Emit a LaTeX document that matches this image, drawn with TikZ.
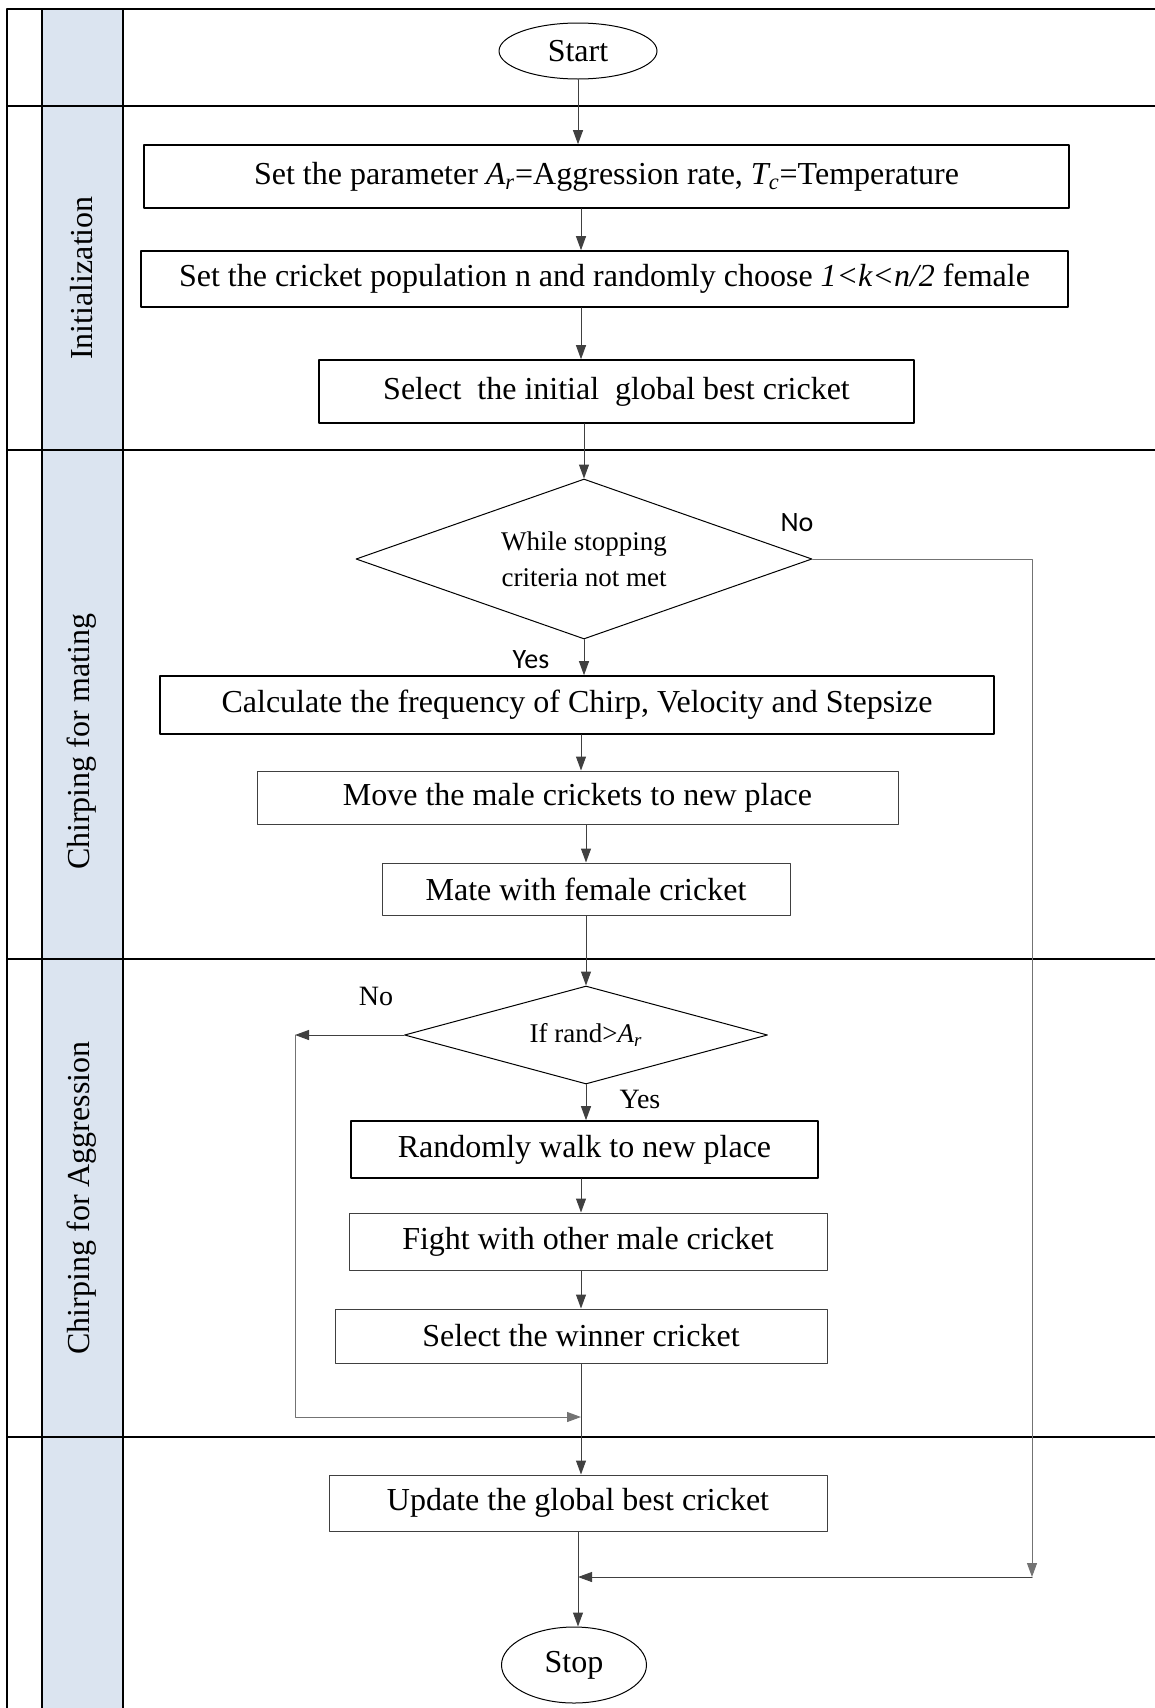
\documentclass[tikz,border=0pt]{standalone}
\usepackage{fontspec}
\setmainfont{Liberation Serif}
\newfontfamily\calibri{Carlito}
\usetikzlibrary{shapes.geometric,arrows.meta}
\definecolor{lanefill}{RGB}{219,228,240}
\tikzset{
  lanelabel/.style={rotate=90, inner sep=0pt, font=\fontsize{16}{19}\selectfont},
  procbox/.style={draw, line width=0.8pt, inner sep=0pt, font=\fontsize{16}{19}\selectfont},
  procthin/.style={procbox, draw=black!75, line width=0.5pt},
  boxsize/.style 2 args={minimum width=#1*0.5pt, minimum height=#2*0.5pt},
  decision/.style={diamond, draw, line width=0.5pt, inner sep=0pt, align=center, font=\fontsize{13.5}{18}\selectfont},
  terminal/.style={ellipse, draw, line width=0.5pt, inner sep=0pt, font=\fontsize{16}{19}\selectfont},
  flow/.style={draw=black!75, line width=0.5pt, -{Triangle[length=7pt,width=5pt]}},
  answer/.style={inner sep=0pt, font=\fontsize{14}{16}\selectfont},
  sansanswer/.style={inner sep=0pt, font=\calibri\fontsize{14}{16}\selectfont}
}
\begin{document}
\begin{tikzpicture}[x=0.5pt, y=-0.5pt, line cap=round, line join=round]
  \useasboundingbox (0,0) rectangle (1155,1708);
  \begin{scope}[line width=1pt, color=black]
    \fill[lanefill] (42,9) rectangle (123,1708);
    \draw (7,1708) -- (7,9) -- (1155,9);
    \draw (42,9) -- (42,1708);
    \draw (123,9) -- (123,1708);
    \draw (7,106) -- (1155,106);
    \draw (7,450) -- (1155,450);
    \draw (7,959) -- (1155,959);
    \draw (7,1437) -- (1155,1437);
  \end{scope}
  \node[lanelabel] (lblinit) at (82,278) {Initialization};
  \node[lanelabel] (lblmating) at (82,742) {Chirping for mating};
  \node[lanelabel] (lblaggr) at (82,1198) {Chirping for Aggression};

  \coordinate (axis) at (581,0);
  \node[terminal, boxsize={158}{56}] (start) at (578,51) {Start};
  \node[procbox, boxsize={925}{63}] (setpar) at (606.5,176.5)
    {Set the parameter \textit{A\textsubscript{r}}=Aggression rate, \textit{T\textsubscript{c}}=Temperature};
  \node[procbox, boxsize={927}{56}] (setpop) at (604.5,279)
    {Set the cricket population n and randomly choose \textit{1<k<n/2} female};
  \node[procbox, boxsize={595}{63}] (selinit) at (616.5,391.5)
    {Select\ \ the initial\ \ global best cricket};
  \node[decision, aspect=2.85, boxsize={456}{160}] (whilestop) at (584,559)
    {While stopping\\criteria not met};
  \node[procbox, boxsize={834}{58}] (calc) at (577,705)
    {Calculate the frequency of Chirp, Velocity and Stepsize};
  \node[procthin, boxsize={641}{53}] (move) at (577.5,797.5)
    {Move the male crickets to new place};
  \node[procthin, boxsize={408}{52}] (mate) at (586,889)
    {Mate with female cricket};
  \node[decision, aspect=3.7, boxsize={363}{98}] (ifrand) at (586,1035)
    {If rand>\textit{A\textsubscript{r}}};
  \node[procbox, boxsize={467}{57}] (walk) at (584.5,1149.5)
    {Randomly walk to new place};
  \node[procthin, boxsize={478}{57}] (fight) at (588,1241.5)
    {Fight with other male cricket};
  \node[procthin, boxsize={492}{54}] (winner) at (581,1336)
    {Select the winner cricket};
  \node[procthin, boxsize={498}{56}] (update) at (578,1503)
    {Update the global best cricket};
  \node[terminal, boxsize={145}{76}] (stop) at (574,1665) {Stop};

  \node[sansanswer] (noa) at (797,523) {No};
  \node[sansanswer] (yesa) at (531,660) {Yes};
  \node[answer] (nob) at (376,996) {No};
  \node[answer] (yesb) at (640,1099) {Yes};

  \coordinate (exitR) at (1032,1577);
  \coordinate (loopL) at (295,1417);
  \coordinate (loopJoin) at (winner.south |- loopL);

  \draw[flow] (start.south) -- (start.south |- setpar.north);
  \draw[flow] (setpar.south -| axis) -- (setpop.north -| axis);
  \draw[flow] (setpop.south -| axis) -- (selinit.north -| axis);
  \draw[flow] (selinit.south -| whilestop.north) -- (whilestop.north);
  \draw[flow] (whilestop.south) -- (whilestop.south |- calc.north);
  \draw[flow] (calc.south -| axis) -- (move.north -| axis);
  \draw[flow] (move.south -| mate.north) -- (mate.north);
  \draw[flow] (mate.south -| ifrand.north) -- (ifrand.north);
  \draw[flow] (ifrand.south) -- (ifrand.south |- walk.north);
  \draw[flow] (walk.south -| axis) -- (fight.north -| axis);
  \draw[flow] (fight.south -| axis) -- (winner.north -| axis);
  \draw[flow] (winner.south) -- (winner.south |- update.north);
  \draw[flow] (update.south) -- (update.south |- stop.north);

  \draw[flow] (ifrand.west) -- (ifrand.west -| loopL);
  \draw[flow, draw=black!55] (ifrand.west -| loopL) -- (loopL) -- (loopJoin);
  \draw[flow, draw=black!55] (whilestop.east) -- (whilestop.east -| exitR) -- (exitR);
  \draw[flow] (exitR) -- (exitR -| update.south);
\end{tikzpicture}
\end{document}
